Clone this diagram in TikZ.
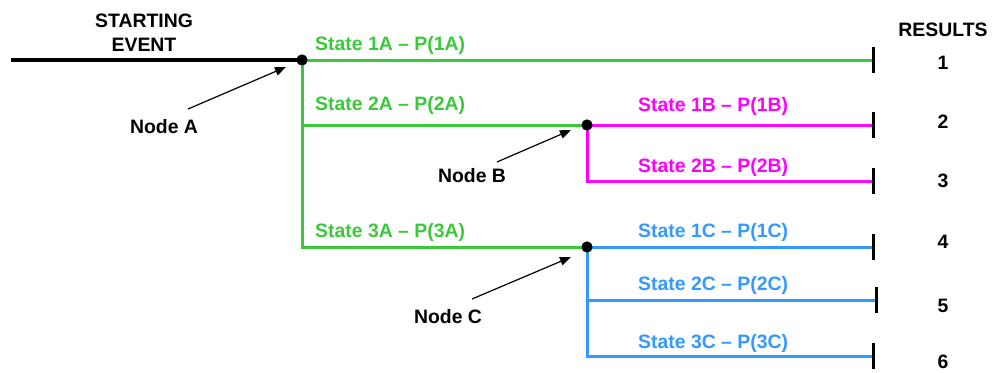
\documentclass[tikz,border=0pt]{standalone}
\usepackage{fontspec}
\setmainfont{Liberation Sans}
\usetikzlibrary{arrows.meta}
\definecolor{brgreen}{RGB}{57,201,57}
\definecolor{brmag}{RGB}{255,0,255}
\definecolor{brblue}{RGB}{51,153,255}
\tikzset{
  txt/.style={font=\fontsize{19.4}{24}\selectfont\bfseries, inner sep=0pt, anchor=base},
  stlab/.style={txt, anchor=base west},
  gline/.style={draw=brgreen, line width=3pt},
  mline/.style={draw=brmag, line width=3pt},
  bline/.style={draw=brblue, line width=3pt},
  kline/.style={draw=black, line width=3.3pt},
  endtick/.style={draw=black, line width=3pt},
  dot/.style={circle, fill=black, inner sep=0pt, minimum size=11pt},
  ptr/.style={draw=black, line width=1.2pt, -{Triangle[length=11pt,width=8.5pt]}},
}
\begin{document}
\begin{tikzpicture}[x=1pt,y=-1pt]
\useasboundingbox (0,0) rectangle (992,372);
% junctions and ends
\coordinate (start) at (11,60);
\node[dot] (dotA) at (302,60) {};
\node[dot] (dotB) at (587,125) {};
\node[dot] (dotC) at (587,247) {};
\coordinate (e1) at (873,60);
\coordinate (e2) at (873,125);
\coordinate (e3) at (873,181);
\coordinate (e4) at (873,247);
\coordinate (e5) at (876,300);
\coordinate (e6) at (873,356);
% branches
\path[kline] (start) -- (dotA.center);
\path[gline] (dotA.center) -- (e1);
\path[gline] (dotA.center) |- (dotB.center);
\path[gline] (dotA.center) |- (dotC.center);
\path[mline] (dotB.center) -- (e2);
\path[mline] (dotB.center) |- (e3);
\path[bline] (dotC.center) -- (e4);
\path[bline] (dotC.center) |- (e5);
\path[bline] (dotC.center) |- (e6);
% redraw dots on top
\node[dot] at (dotA.center) {};
\node[dot] at (dotB.center) {};
\node[dot] at (dotC.center) {};
% end ticks
\foreach \e in {e1,e2,e3,e4,e5,e6}
  \path[endtick] ([yshift=13pt]\e) -- ([yshift=-13pt]\e);
% headings
\node[txt, align=center] (startlab) at (144,51) {STARTING\\EVENT};
\node[txt] (reslab) at (943,36) {RESULTS};
% state labels
\node[stlab, text=brgreen] (s1a) at (315,50) {State 1A – P(1A)};
\node[stlab, text=brgreen] (s2a) at (315,110) {State 2A – P(2A)};
\node[stlab, text=brgreen] (s3a) at (315,237) {State 3A – P(3A)};
\node[stlab, text=brmag] (s1b) at (638,111) {State 1B – P(1B)};
\node[stlab, text=brmag] (s2b) at (638,172) {State 2B – P(2B)};
\node[stlab, text=brblue] (s1c) at (638,237) {State 1C – P(1C)};
\node[stlab, text=brblue] (s2c) at (638,290) {State 2C – P(2C)};
\node[stlab, text=brblue] (s3c) at (638,348) {State 3C – P(3C)};
% result numbers
\node[txt] (r1) at (943,69) {1};
\node[txt] (r2) at (943,128) {2};
\node[txt] (r3) at (943,187) {3};
\node[txt] (r4) at (943,248) {4};
\node[txt] (r5) at (943,312) {5};
\node[txt] (r6) at (943,368) {6};
% node labels and pointers
\node[txt] (labA) at (164,133) {Node A};
\node[txt] (labB) at (472,182) {Node B};
\node[txt] (labC) at (448,323) {Node C};
\coordinate (tailA) at (188,109);
\coordinate (headA) at (286,67);
\coordinate (tailB) at (497,162);
\coordinate (headB) at (571,130);
\coordinate (tailC) at (472,299);
\coordinate (headC) at (571,257);
\path[ptr] (tailA) -- (headA);
\path[ptr] (tailB) -- (headB);
\path[ptr] (tailC) -- (headC);
\end{tikzpicture}
\end{document}
